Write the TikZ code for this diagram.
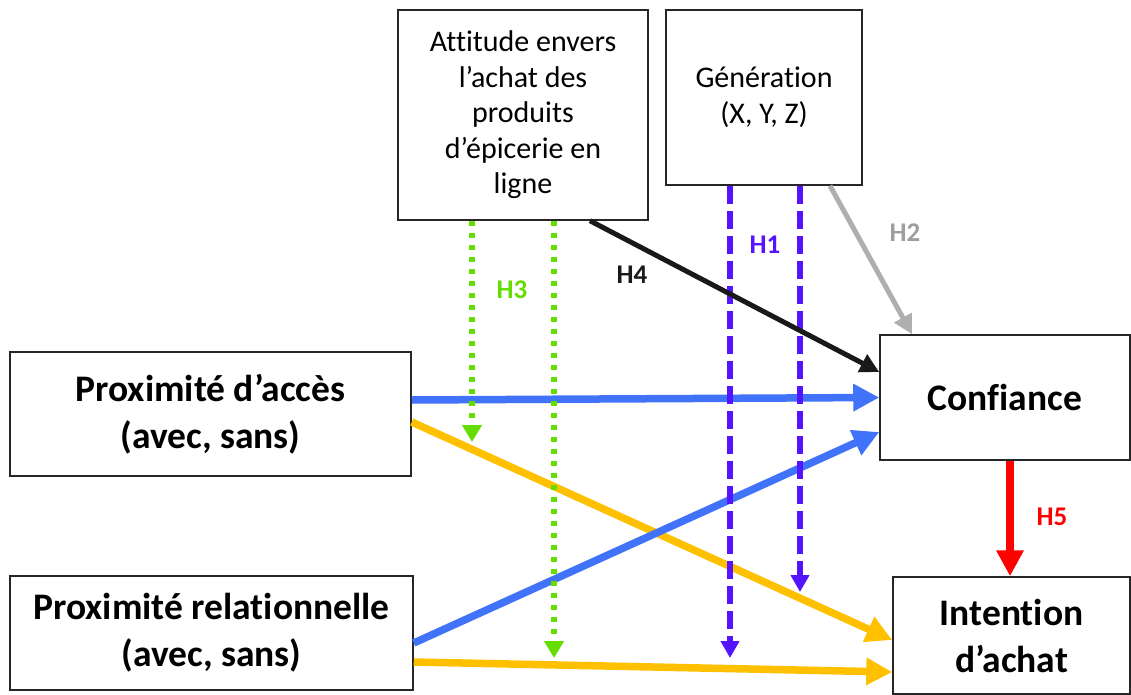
\documentclass[tikz,border=0pt]{standalone}
\usepackage{fontspec}
\setmainfont{Carlito}[Ligatures=NoCommon]
\usetikzlibrary{arrows.meta}
\definecolor{hgreen}{RGB}{102,221,0}
\definecolor{hpurple}{RGB}{85,20,255}
\definecolor{hblue}{RGB}{64,114,250}
\definecolor{horange}{RGB}{255,192,0}
\definecolor{hgray}{RGB}{175,175,175}
\definecolor{hred}{RGB}{255,0,0}
\tikzset{
    box/.style={draw=black!85, line width=1.5pt, align=center, inner sep=0pt},
    bigtext/.style={font=\fontsize{37.5}{47}\selectfont\bfseries},
    smalltext/.style={font=\fontsize{30}{35.5}\selectfont},
    hlabel/.style={font=\fontsize{27}{30}\selectfont\bfseries},
    thick arrow/.style={line width=7.5pt, -{Triangle[length=26pt,width=26pt]}},
    thin arrow/.style={line width=5pt, -{Triangle[length=19pt,width=19pt]}}
}
\begin{document}
\begin{tikzpicture}[x=1pt,y=-1pt]
        \useasboundingbox (0,0) rectangle (1131,695);

        \node[box, smalltext, minimum width=250pt, minimum height=210pt] (attitude) at (523,115)
            {Attitude envers\\l’achat des\\produits\\d’épicerie en\\ligne};
        \node[box, smalltext, minimum width=196pt, minimum height=175pt] (generation) at (764,97.5)
            {Génération\\(X, Y, Z)};
        \node[box, bigtext, minimum width=401pt, minimum height=124pt] (acces) at (210.5,414)
            {Proximité d’accès\\(avec, sans)};
        \node[box, bigtext, minimum width=403pt, minimum height=114pt] (relation) at (211.5,633)
            {Proximité relationnelle\\(avec, sans)};
        \node[box, bigtext, minimum width=250pt, minimum height=125pt] (confiance) at (1005,397.5)
            {Confiance};
        \node[box, bigtext, minimum width=237pt, minimum height=117pt] (intention) at (1011.5,635.5)
            {Intention\\d’achat};

        \coordinate (h3a) at (472,442);
        \coordinate (h3b) at (554,658);
        \coordinate (h1a) at (730,658);
        \coordinate (h1b) at (800,592);

        % direct effects
        \draw[hblue, thick arrow] ([yshift=14pt]acces.east) -- (confiance.west);
        \draw[horange, thick arrow] ([yshift=-8pt]acces.east) -- ([yshift=-4.5pt]intention.west);
        \draw[horange, thick arrow] ([yshift=-29pt]relation.east) -- ([yshift=-36.5pt]intention.west);
        \draw[hblue, thick arrow] ([yshift=-10pt]relation.east) -- ([yshift=-34.5pt]confiance.west);

        % moderators
        \draw[hgreen, line width=5.5pt, dash pattern=on 5.5pt off 6.5pt, -{Triangle[length=17pt,width=19pt]}]
            ([xshift=-51pt]attitude.south) -- (h3a);
        \draw[hgreen, line width=5.5pt, dash pattern=on 5.5pt off 6.5pt, -{Triangle[length=17pt,width=19pt]}]
            ([xshift=31pt]attitude.south) -- (h3b);
        \draw[hpurple, line width=6pt, dash pattern=on 18pt off 7pt, -{Triangle[length=17pt,width=18pt]}]
            ([xshift=-34pt]generation.south) -- (h1a);
        \draw[hpurple, line width=6pt, dash pattern=on 18pt off 7pt, -{Triangle[length=17pt,width=18pt]}]
            ([xshift=36pt]generation.south) -- (h1b);

        \draw[black!90, thin arrow] ([xshift=67pt]attitude.south) -- ([yshift=25.5pt]confiance.west);
        \draw[hgray, thin arrow] ([xshift=66pt]generation.south) -- ([xshift=-93pt]confiance.north);
        \draw[hred, thick arrow] ([xshift=5pt]confiance.south) -- ([xshift=-1.5pt]intention.north);

        \node[hlabel, hpurple] (lab1) at (765,245) {H1};
        \node[hlabel, hgray!90!black] (lab2) at (905,233) {H2};
        \node[hlabel, hgreen] (lab3) at (512,290) {H3};
        \node[hlabel, black!90] (lab4) at (632,275) {H4};
        \node[hlabel, hred] (lab5) at (1052,517) {H5};
    \end{tikzpicture}
\end{document}
